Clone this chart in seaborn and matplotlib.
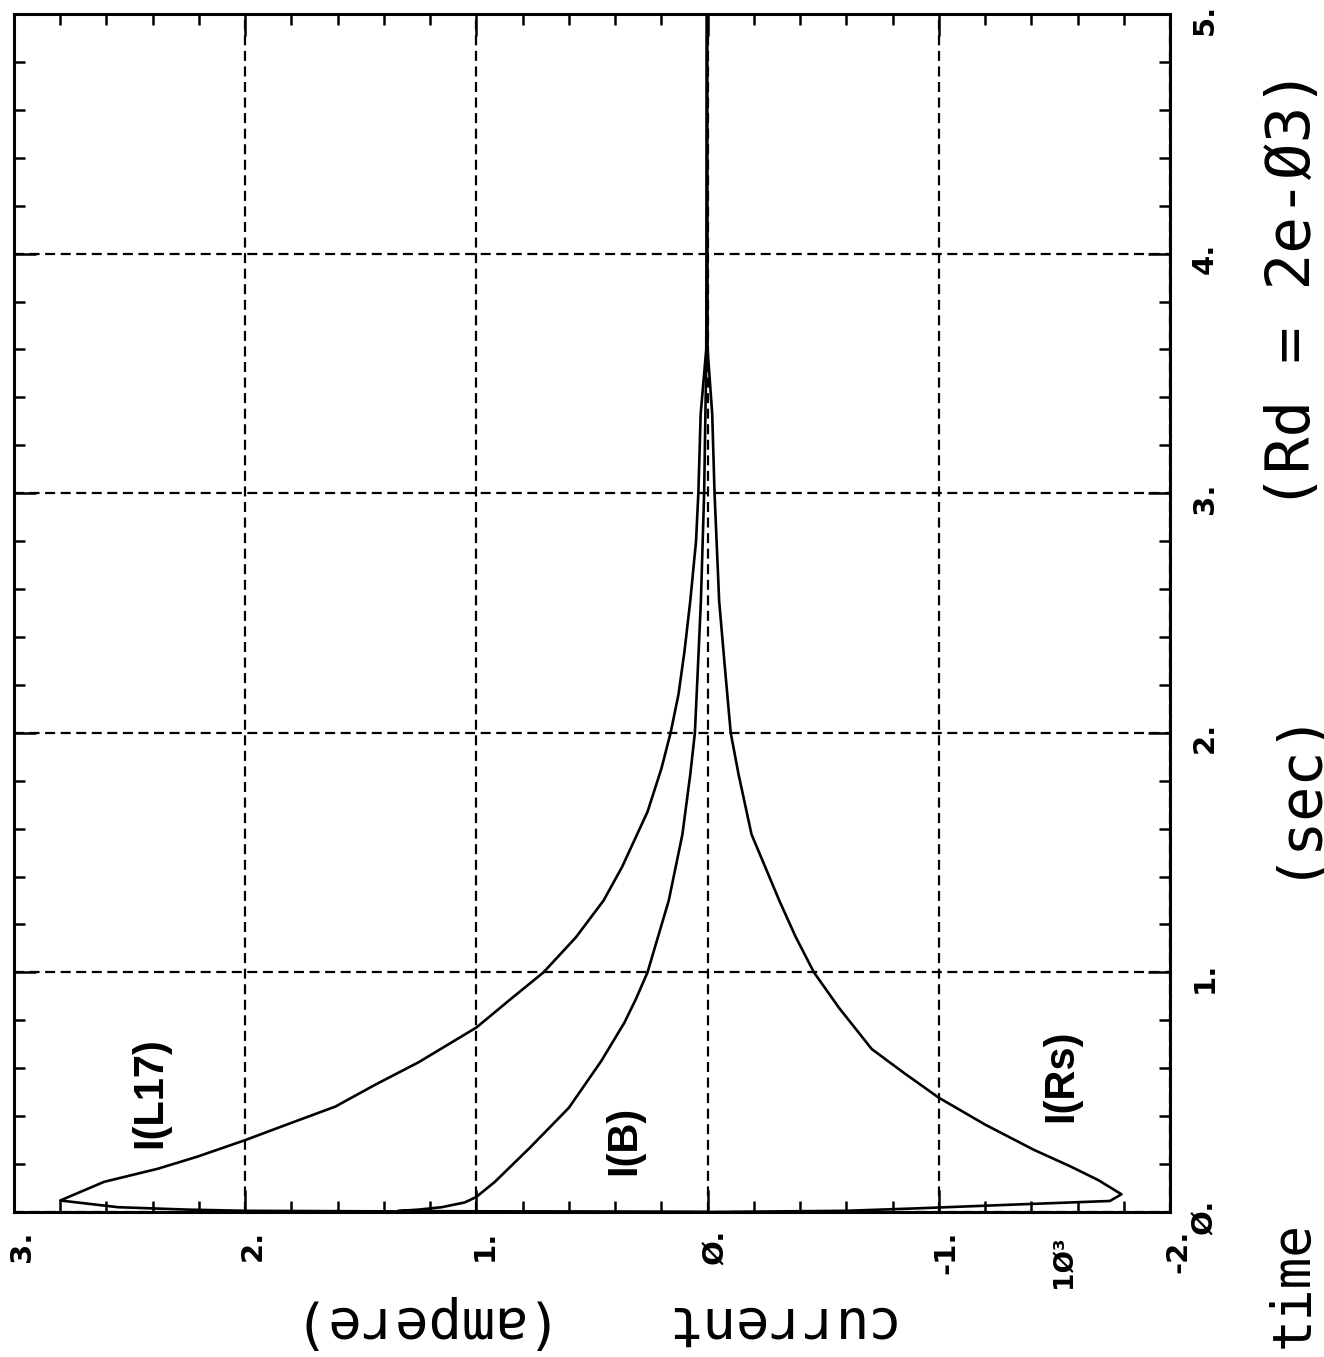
import numpy as np
import pandas as pd
import matplotlib
matplotlib.use("Agg")
import matplotlib.pyplot as plt
import matplotlib.transforms as mtransforms
from matplotlib.ticker import MultipleLocator
import seaborn as sns

# ---------------- data (time in sec, current in ampere x 10^3) ----------------
l17_time = [0.0, 0.002, 0.005, 0.010, 0.020, 0.048, 0.126, 0.18, 0.23, 0.30, 0.365,
            0.44, 0.53, 0.625, 0.77, 0.89, 1.0, 1.146, 1.30, 1.44, 1.67, 1.85, 2.0, 2.16,
            2.34, 2.55, 2.8, 3.0, 3.33, 3.6, 4.0, 5.0]
l17_current = [0.0, 1.2, 2.0, 2.25, 2.55, 2.80, 2.61, 2.38, 2.21, 2.0, 1.82,
               1.61, 1.44, 1.25, 1.0, 0.85, 0.71, 0.57, 0.45, 0.37, 0.26, 0.20, 0.16, 0.126,
               0.10, 0.075, 0.05, 0.04, 0.03, 0.006, 0.004, 0.003]

b_time = [0.0, 0.004, 0.010, 0.020, 0.040, 0.063, 0.126, 0.267, 0.435, 0.63, 0.79,
          0.889, 1.0, 1.30, 1.576, 1.826, 2.0, 2.27, 2.55, 3.0, 3.6, 5.0]
b_current = [0.0, 1.34, 1.25, 1.15, 1.05, 1.0, 0.92, 0.77, 0.60, 0.46, 0.36,
             0.31, 0.26, 0.168, 0.109, 0.075, 0.055, 0.042, 0.029, 0.015, 0.005, 0.003]

rs_time = [0.0, 0.005, 0.015, 0.030, 0.046, 0.074, 0.133, 0.19, 0.26, 0.365, 0.477,
           0.58, 0.68, 0.85, 1.0, 1.15, 1.30, 1.576, 1.826, 2.0, 2.27, 2.55, 3.0, 3.33,
           3.6, 5.0]
rs_current = [0.0, -0.6, -0.9, -1.30, -1.74, -1.79, -1.69, -1.57, -1.41, -1.20, -1.0,
              -0.85, -0.71, -0.57, -0.46, -0.38, -0.31, -0.19, -0.134, -0.10, -0.075,
              -0.05, -0.03, -0.02, 0.0, 0.002]

series_names = ["I(L17)", "I(B)", "I(Rs)"]

x_ticks = [3, 2, 1, 0, -1, -2]
x_tick_labels = ["3.", "2.", "1.", "Ø.", "-1.", "-2."]
y_ticks = [0, 1, 2, 3, 4, 5]
y_tick_labels = ["Ø.", "1.", "2.", "3.", "4.", "5."]

# ---------------- figure ----------------
sns.set_style("ticks")
plt.rcParams["font.family"] = ["DejaVu Sans Mono", "DejaVu Sans"]
plt.rcParams["text.color"] = "black"
plt.rcParams["xtick.color"] = "black"
plt.rcParams["ytick.color"] = "black"
plt.rcParams["axes.edgecolor"] = "black"

W, H = 1324, 1357
fig = plt.figure(figsize=(W / 100, H / 100), dpi=100)
px_l, px_r, px_t, px_b = 14, 1170, 14, 1212
ax = fig.add_axes([px_l / W, 1 - px_b / H, (px_r - px_l) / W, (px_b - px_t) / H])

df = pd.concat([
    pd.DataFrame({"time": l17_time, "current": l17_current, "series": series_names[0]}),
    pd.DataFrame({"time": b_time, "current": b_current, "series": series_names[1]}),
    pd.DataFrame({"time": rs_time, "current": rs_current, "series": series_names[2]}),
])

sns.lineplot(data=df, x="current", y="time", units="series", estimator=None,
             sort=False, color="black", linewidth=1.9, legend=False, ax=ax)

ax.set_xlim(3, -2)
ax.set_ylim(0, 5)
ax.set_xlabel("")
ax.set_ylabel("")

ax.set_xticks(x_ticks, labels=x_tick_labels)
ax.xaxis.set_minor_locator(MultipleLocator(0.2))
ax.yaxis.tick_right()
ax.set_yticks(y_ticks, labels=y_tick_labels)
ax.yaxis.set_minor_locator(MultipleLocator(0.2))

ax.tick_params(which="both", direction="in", top=True, bottom=True, left=True,
               right=True, width=1.8, color="black")
ax.tick_params(which="major", length=16)
ax.tick_params(which="minor", length=8)
ax.tick_params(axis="x", which="major", labelbottom=True, labeltop=False,
               labelrotation=90, pad=13)
ax.tick_params(axis="y", which="major", labelright=True, labelleft=False,
               labelrotation=90, pad=15)

tick_font = ["DejaVu Sans", "DejaVu Sans Mono"]
for lbl in ax.get_xticklabels():
    lbl.set_fontsize(21)
    lbl.set_fontweight("bold")
    lbl.set_family(tick_font)
    lbl.set_color("black")
    lbl.set_transform(lbl.get_transform() +
                      mtransforms.ScaledTranslation(8 / 100, 0, fig.dpi_scale_trans))
for lbl in ax.get_yticklabels():
    lbl.set_fontsize(21)
    lbl.set_fontweight("bold")
    lbl.set_family(tick_font)
    lbl.set_color("black")
    lbl.set_verticalalignment("center")
    lbl.set_transform(lbl.get_transform() +
                      mtransforms.ScaledTranslation(0, -5 / 100, fig.dpi_scale_trans))

ax.grid(True, which="major", color="black", linewidth=1.6, linestyle=(0, (4.5, 2.5)))
for sp in ax.spines.values():
    sp.set_linewidth(2.2)
    sp.set_color("black")

# multiplier
fig.text(1064 / W, 1 - 1236 / H, "1Ø³", rotation=90, ha="center", va="top",
         fontsize=19, fontweight="bold", family=tick_font)

# curve labels
lab_font = ["Liberation Sans", "DejaVu Sans"]
ax.text(2.41, 0.50, series_names[0], rotation=90, ha="center", va="center",
        fontsize=30, fontweight="bold", family=lab_font)
ax.text(0.36, 0.30, series_names[1], rotation=90, ha="center", va="center",
        fontsize=30, fontweight="bold", family=lab_font)
ax.text(-1.53, 0.57, series_names[2], rotation=90, ha="center", va="center",
        fontsize=30, fontweight="bold", family=lab_font)

# axis titles (rotated like the original page)
fig.text(1293 / W, 1 - 1285 / H, "time", rotation=90, ha="center", va="center", fontsize=38)
fig.text(1293 / W, 1 - 790 / H, "(sec)", rotation=90, ha="center", va="center", fontsize=42)
fig.text(1293 / W, 1 - 290 / H, "(Rd = 2e-Ø3)", rotation=90, ha="center", va="center", fontsize=44)
fig.text(775 / W, 1 - 1322 / H, "current", rotation=180, ha="center", va="center", fontsize=40)
fig.text(405 / W, 1 - 1322 / H, "(ampere)", rotation=180, ha="center", va="center", fontsize=40)

fig.savefig("out.png", dpi=100, facecolor="white")
